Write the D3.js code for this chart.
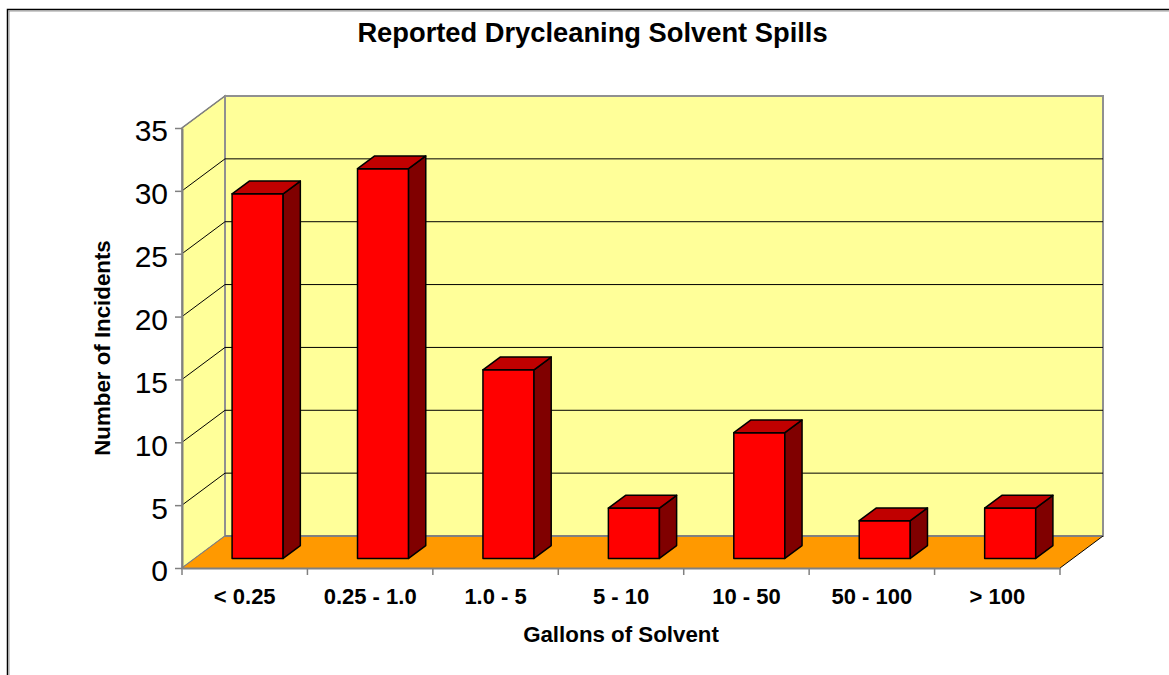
<!DOCTYPE html>
<html><head><meta charset="utf-8">
<script src="https://cdn.jsdelivr.net/npm/d3@7"></script>
<style>body{margin:0;background:#fff}svg{display:block}text{font-family:Arial,"Liberation Sans",sans-serif}</style>
</head><body>
<script>
const categories = ["< 0.25", "0.25 - 1.0", "1.0 - 5", "5 - 10", "10 - 50", "50 - 100", "> 100"];
const incidents = [29, 31, 15, 4, 10, 3, 4];
const yTicks = [0, 5, 10, 15, 20, 25, 30, 35];
const titleText = "Reported Drycleaning Solvent Spills";
const xTitle = "Gallons of Solvent";
const yTitle = "Number of Incidents";

const W = 1169, H = 675;
const svg = d3.select("body").append("svg").attr("width", W).attr("height", H);

// frame
svg.append("rect").attr("x", 7.5).attr("y", 9.5).attr("width", 1300).attr("height", 800)
  .attr("fill", "none").attr("stroke", "#000").attr("stroke-width", 1.5);
svg.append("rect").attr("x", 9).attr("y", 11).attr("width", 1300).attr("height", 800)
  .attr("fill", "none").attr("stroke", "#999").attr("stroke-width", 1);

const x = d3.scaleBand().domain(categories).range([182, 1060]);
const y = d3.scaleLinear().domain([0, 35]).range([568, 128]);
const DX = 43, DY = -32;           // full depth offset
const d0 = 0.3, d1 = 0.7;          // bar depth span
const barFrac = 0.407;

const x0 = x.range()[0], x1 = x.range()[1];
const yMin = y(0), yMax = y(35);
const pts = a => a.map(p => p.join(",")).join(" ");

// left wall
svg.append("polygon")
  .attr("points", pts([[x0, yMin], [x0 + DX, yMin + DY], [x0 + DX, yMax + DY], [x0, yMax]]))
  .attr("fill", "#FFFF99").attr("stroke", "#808080").attr("stroke-width", 1.5);
// back wall
svg.append("rect").attr("x", x0 + DX).attr("y", yMax + DY)
  .attr("width", x1 - x0).attr("height", yMin - yMax)
  .attr("fill", "#FFFF99").attr("stroke", "#909090").attr("stroke-width", 2);

// gridlines
const gl = yTicks.filter(v => v > 0 && v < 35);
svg.append("g").selectAll("line.bg").data(gl).join("line")
  .attr("x1", x0 + DX).attr("x2", x1 + DX)
  .attr("y1", d => y(d) + DY).attr("y2", d => y(d) + DY)
  .attr("stroke", "#000").attr("stroke-width", 1);
svg.append("g").selectAll("line.lg").data(gl.concat([35])).join("line")
  .attr("x1", x0).attr("x2", x0 + DX)
  .attr("y1", d => y(d)).attr("y2", d => y(d) + DY)
  .attr("stroke", d => d === 35 ? "#808080" : "#000").attr("stroke-width", 1);

// floor
svg.append("polygon")
  .attr("points", pts([[x0, yMin], [x1, yMin], [x1 + DX, yMin + DY], [x0 + DX, yMin + DY]]))
  .attr("fill", "#FF9900");
svg.append("line").attr("x1", x0 + DX).attr("x2", x1 + DX).attr("y1", yMin + DY).attr("y2", yMin + DY)
  .attr("stroke", "#808080").attr("stroke-width", 2);
svg.append("line").attr("x1", x0).attr("x2", x0 + DX).attr("y1", yMin).attr("y2", yMin + DY)
  .attr("stroke", "#808080").attr("stroke-width", 1);
svg.append("line").attr("x1", x1).attr("x2", x1 + DX).attr("y1", yMin).attr("y2", yMin + DY)
  .attr("stroke", "#000").attr("stroke-width", 1);

// bars
const bars = svg.append("g").selectAll("g").data(categories.map((c, i) => ({c, v: incidents[i]}))).join("g");
bars.each(function(d) {
  const g = d3.select(this);
  const bw = x.bandwidth() * barFrac;
  const cx = x(d.c) + x.bandwidth() / 2;
  const fx = cx - bw / 2 + DX * d0, fxr = fx + bw;
  const fb = y(0) + DY * d0, ft = y(d.v) + DY * d0;
  const ddx = DX * (d1 - d0), ddy = DY * (d1 - d0);
  const st = {stroke: "#000", "stroke-width": 1.5, "stroke-linejoin": "round"};
  const add = (p, fill) => {
    const e = g.append("polygon").attr("points", pts(p)).attr("fill", fill);
    Object.entries(st).forEach(([k, v]) => e.attr(k, v));
  };
  add([[fx, fb], [fxr, fb], [fxr, ft], [fx, ft]], "#FF0000");
  add([[fxr, fb], [fxr + ddx, fb + ddy], [fxr + ddx, ft + ddy], [fxr, ft]], "#800000");
  add([[fx, ft], [fxr, ft], [fxr + ddx, ft + ddy], [fx + ddx, ft + ddy]], "#C00000");
});

// y axis
const yAxis = svg.append("g").attr("transform", `translate(${x0},0)`)
  .call(d3.axisLeft(y).tickValues(yTicks).tickSize(7).tickPadding(7).tickSizeOuter(0));
yAxis.select(".domain").attr("stroke", "#808080").attr("stroke-width", 2);
yAxis.selectAll(".tick line").attr("stroke", "#808080").attr("stroke-width", 1.5);
yAxis.selectAll(".tick text").attr("font-size", 30).attr("fill", "#000")
  .attr("font-family", "Arial, 'Liberation Sans', sans-serif").attr("dy", "0.43em");

// x axis
const xAxis = svg.append("g").attr("transform", `translate(0,${yMin})`)
  .call(d3.axisBottom(x).tickSize(0).tickPadding(20).tickSizeOuter(0));
xAxis.select(".domain").attr("stroke", "#808080").attr("stroke-width", 2);
xAxis.selectAll(".tick text").attr("font-size", 22).attr("font-weight", "bold").attr("fill", "#000")
  .attr("font-family", "Arial, 'Liberation Sans', sans-serif");
const bounds = categories.map(c => x(c)).concat([x1]);
xAxis.append("g").selectAll("line").data(bounds).join("line")
  .attr("x1", d => d).attr("x2", d => d).attr("y1", 0).attr("y2", 7)
  .attr("stroke", "#808080").attr("stroke-width", 1.5);

// titles
svg.append("text").attr("x", 592.5).attr("y", 42).attr("text-anchor", "middle")
  .attr("font-size", 27.3).attr("font-weight", "bold").text(titleText);
svg.append("text").attr("x", 621).attr("y", 642).attr("text-anchor", "middle")
  .attr("font-size", 22.3).attr("font-weight", "bold").text(xTitle);
svg.append("text").attr("transform", "translate(110,348) rotate(-90)").attr("text-anchor", "middle")
  .attr("font-size", 22.3).attr("font-weight", "bold").text(yTitle);
</script>
</body></html>
